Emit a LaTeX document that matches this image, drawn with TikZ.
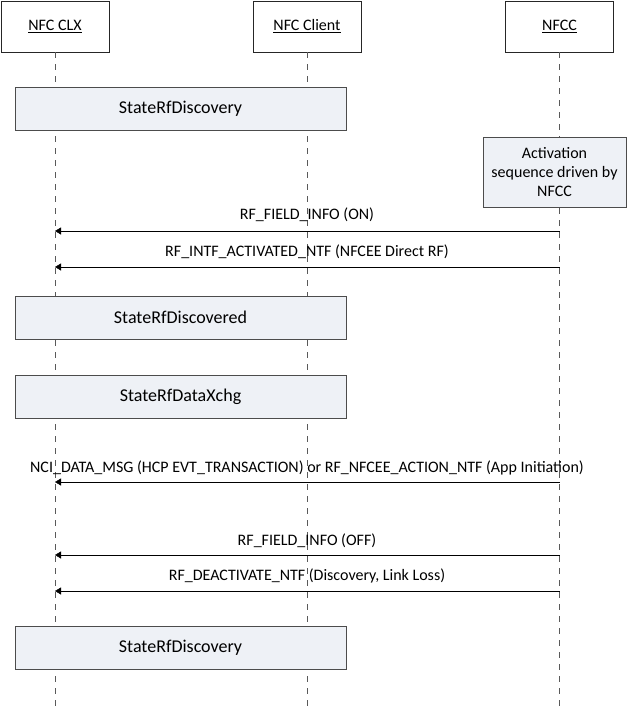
\documentclass[tikz,border=0pt]{standalone}
\usepackage{fontspec}
\setmainfont{Carlito}
\usetikzlibrary{arrows.meta}

\definecolor{statefill}{HTML}{EEF1F6}

\begin{document}
\begin{tikzpicture}[x=1pt,y=-1pt,font=\fontsize{16}{19}\selectfont]
\useasboundingbox (0,0) rectangle (630,707);

\tikzset{
  actor/.style={draw=black!85,fill=white,minimum width=108pt,minimum height=51pt,inner sep=0pt},
  state/.style={draw=black!70,fill=statefill,minimum width=331pt,minimum height=43pt,inner sep=0pt,
    font=\fontsize{18}{21}\selectfont},
  life/.style={black!65,dash pattern=on 6pt off 6pt},
  msg/.style={-{Triangle[length=6pt,width=7pt]},black},
  lbl/.style={inner sep=0pt}
}

\node[actor] (clx) at (55,26.5) {\underline{NFC CLX}};
\node[actor] (client) at (307,26.5) {\underline{NFC Client}};
\node[actor] (nfcc) at (559.5,26.5) {\underline{NFCC}};

\coordinate (clxend) at (55,707);
\coordinate (clientend) at (307,707);
\coordinate (nfccend) at (559.5,707);

\draw[life] (clx) -- (clxend);
\draw[life] (client) -- (clientend);
\draw[life] (nfcc) -- (nfccend);

\node[state] (disc) at (180.5,108.5) {StateRfDiscovery};
\node[draw=black!70,fill=statefill,minimum width=143pt,minimum height=70pt,inner sep=0pt,
      align=center,font=\fontsize{16}{19}\selectfont] (act) at (554.5,172)
      {Activation\\sequence driven by\\NFCC};

% RF field on, activation
\node[lbl] (m1) at (307,215) {RF\_FIELD\_INFO (ON)};
\coordinate (m1a) at (559.5,231);
\coordinate (m1b) at (55,231);
\draw[msg] (m1a) -- (m1b);

\node[lbl] (m2) at (307,252) {RF\_INTF\_ACTIVATED\_NTF (NFCEE Direct RF)};
\coordinate (m2a) at (559.5,267);
\coordinate (m2b) at (55,267);
\draw[msg] (m2a) -- (m2b);

\node[state] (discd) at (180.5,317.5) {StateRfDiscovered};
\node[state] (xchg) at (180.5,396.5) {StateRfDataXchg};

\node[lbl] (m3) at (307,468) {NCI\_DATA\_MSG (HCP EVT\_TRANSACTION) or RF\_NFCEE\_ACTION\_NTF (App Initiation)};
\coordinate (m3a) at (559.5,482);
\coordinate (m3b) at (55,482);
\draw[msg] (m3a) -- (m3b);

% RF field off, deactivation
\node[lbl] (m4) at (307,541) {RF\_FIELD\_INFO (OFF)};
\coordinate (m4a) at (559.5,555);
\coordinate (m4b) at (55,555);
\draw[msg] (m4a) -- (m4b);

\node[lbl] (m5) at (307,576) {RF\_DEACTIVATE\_NTF (Discovery, Link Loss)};
\coordinate (m5a) at (559.5,591);
\coordinate (m5b) at (55,591);
\draw[msg] (m5a) -- (m5b);

\node[state] (disc2) at (180.5,647.5) {StateRfDiscovery};

\end{tikzpicture}
\end{document}
